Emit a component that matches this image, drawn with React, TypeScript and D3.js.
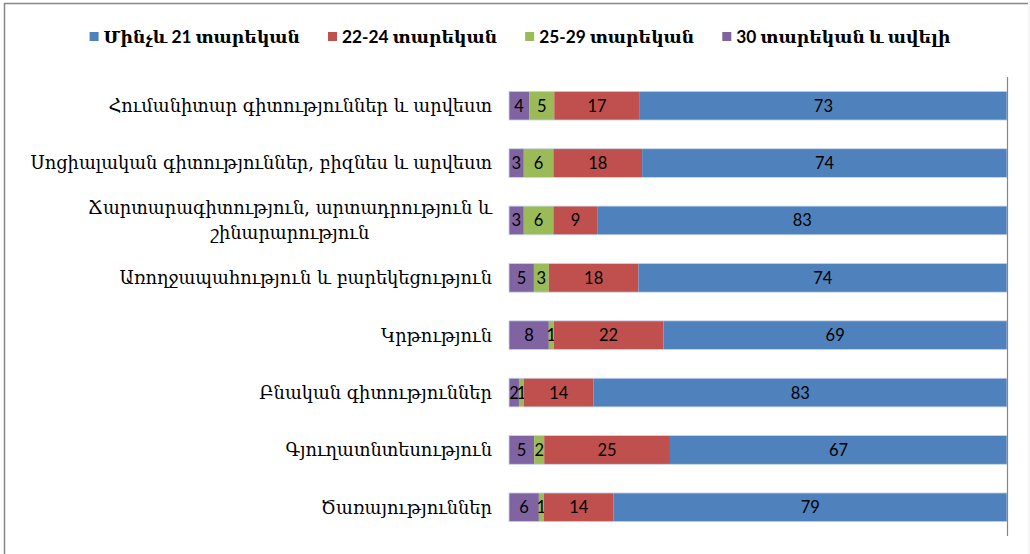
import React, { useEffect, useRef } from "react";
import * as d3 from "d3";

const categories = [
  "Հումանիտար գիտություններ և արվեստ",
  "Սոցիալական գիտություններ, բիզնես և արվեստ",
  "Ճարտարագիտություն, արտադրություն և|շինարարություն",
  "Առողջապահություն և բարեկեցություն",
  "Կրթություն",
  "Բնական գիտություններ",
  "Գյուղատնտեսություն",
  "Ծառայություններ",
];
const seriesNames = ["Մինչև 21 տարեկան", "22-24 տարեկան", "25-29 տարեկան", "30 տարեկան և ավելի"];
const seriesColors = ["#4F81BD", "#C0504D", "#9BBB59", "#8064A2"];
const under21 = [73, 74, 83, 74, 69, 83, 67, 79];
const age22to24 = [17, 18, 9, 18, 22, 14, 25, 14];
const age25to29 = [5, 6, 6, 3, 1, 1, 2, 1];
const age30plus = [4, 3, 3, 5, 8, 2, 5, 6];

const W = 1030;
const H = 554;
const LATIN_ARM = "Lato, 'DejaVu Serif', serif";
const ARM = "'DejaVu Serif', serif";
const CAT_FS = 17.8;

export default function App() {
  const ref = useRef<SVGSVGElement>(null);
  useEffect(() => {
    const svg = d3.select(ref.current);
    svg.selectAll("*").remove();

    const rows = categories.map((c, i) => ({
      cat: c,
      s0: under21[i],
      s1: age22to24[i],
      s2: age25to29[i],
      s3: age30plus[i],
    }));
    // stacked left-to-right: 30+, 25-29, 22-24, <21
    const keys = ["s3", "s2", "s1", "s0"];
    const colorOf: Record<string, string> = { s0: seriesColors[0], s1: seriesColors[1], s2: seriesColors[2], s3: seriesColors[3] };
    const stack = d3.stack<any>().keys(keys).offset(d3.stackOffsetExpand);
    const layers = stack(rows);

    const x = d3.scaleLinear().domain([0, 1]).range([509, 1007]);
    const y = d3.scaleBand().domain(categories).range([77, 536]).paddingInner(0.5).paddingOuter(0.25);

    // frame
    svg.append("rect").attr("x", 0).attr("y", 0).attr("width", W).attr("height", H).attr("fill", "#ffffff");
    svg.append("rect").attr("x", 1028).attr("y", 0).attr("width", 2).attr("height", H).attr("fill", "#f6f6f6");
    svg.append("line").attr("x1", 4.5).attr("x2", 4.5).attr("y1", 3).attr("y2", H).attr("stroke", "#868686").attr("stroke-width", 1.5);
    svg.append("line").attr("x1", 4).attr("x2", 1028).attr("y1", 3.5).attr("y2", 3.5).attr("stroke", "#868686").attr("stroke-width", 1.5);

    const g = svg.append("g");
    layers.forEach((layer) => {
      const key = layer.key;
      const lg = g.append("g");
      lg.selectAll("rect")
        .data(layer)
        .join("rect")
        .attr("x", (d) => x(d[0]))
        .attr("y", (d: any) => y(d.data.cat)!)
        .attr("width", (d) => x(d[1]) - x(d[0]))
        .attr("height", y.bandwidth())
        .attr("fill", colorOf[key]);
      lg.selectAll("text")
        .data(layer)
        .join("text")
        .attr("x", (d) => (x(d[0]) + x(d[1])) / 2)
        .attr("y", (d: any) => y(d.data.cat)! + y.bandwidth() / 2)
        .attr("dy", "0.36em")
        .attr("text-anchor", "middle")
        .attr("font-family", "Lato, 'Open Sans', sans-serif")
        .attr("font-size", 16.5)
        .attr("fill", "#000")
        .text((d: any) => d.data[key]);
    });
    // thin light outline around bars
    g.selectAll("rect.out")
      .data(rows)
      .join("rect")
      .attr("class", "out")
      .attr("x", x(0))
      .attr("y", (d) => y(d.cat)!)
      .attr("width", x(1) - x(0))
      .attr("height", y.bandwidth())
      .attr("fill", "none")
      .attr("stroke", "#c9d6e8")
      .attr("stroke-width", 0.8);

    // category axis line at right
    svg.append("line").attr("x1", 1007.5).attr("x2", 1007.5).attr("y1", 77).attr("y2", 536).attr("stroke", "#868686").attr("stroke-width", 1.2);

    // category labels
    const labelX = 492;
    rows.forEach((r) => {
      const lines = r.cat.split("|");
      const cy = y(r.cat)! + y.bandwidth() / 2;
      if (lines.length === 1) {
        svg.append("text")
          .attr("x", labelX)
          .attr("y", cy)
          .attr("dy", "0.36em")
          .attr("text-anchor", "end")
          .attr("font-family", ARM)
          .attr("font-size", CAT_FS)
          .attr("fill", "#000")
          .text(lines[0]);
      } else {
        const t1 = svg.append("text")
          .attr("x", labelX)
          .attr("y", cy - 12.5)
          .attr("dy", "0.36em")
          .attr("text-anchor", "end")
          .attr("font-family", ARM)
          .attr("font-size", CAT_FS)
          .attr("fill", "#000")
          .text(lines[0]);
        const w1 = (t1.node() as SVGTextElement).getComputedTextLength();
        svg.append("text")
          .attr("x", labelX - w1 / 2)
          .attr("y", cy + 12.5)
          .attr("dy", "0.36em")
          .attr("text-anchor", "middle")
          .attr("font-family", ARM)
          .attr("font-size", CAT_FS)
          .attr("fill", "#000")
          .text(lines[1]);
      }
    });

    // legend
    const lgd = svg.append("g");
    const items: { g: any; w: number }[] = [];
    seriesNames.forEach((name, i) => {
      const ig = lgd.append("g");
      ig.append("rect").attr("x", 0).attr("y", -5).attr("width", 9).attr("height", 9).attr("fill", seriesColors[i]);
      const t = ig.append("text")
        .attr("x", 14)
        .attr("y", 0)
        .attr("dy", "0.36em")
        .attr("font-family", LATIN_ARM)
        .attr("font-weight", "bold")
        .attr("font-size", 17.3)
        .attr("fill", "#000")
        .text(name);
      const w = 14 + (t.node() as SVGTextElement).getComputedTextLength();
      items.push({ g: ig, w });
    });
    const gap = 28;
    const total = d3.sum(items, (d) => d.w) + gap * (items.length - 1);
    let cx = 520 - total / 2;
    items.forEach((it) => {
      it.g.attr("transform", `translate(${cx},37)`);
      cx += it.w + gap;
    });
  }, []);

  return (
    <svg
      ref={ref}
      width={W}
      height={H}
      style={{ position: "absolute", left: 0, top: 0, display: "block" }}
    />
  );
}
